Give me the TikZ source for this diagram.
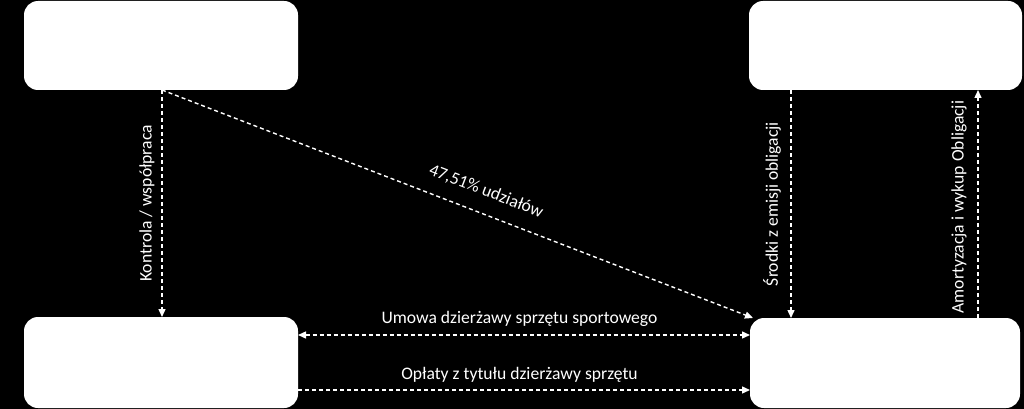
\documentclass[tikz,border=0pt]{standalone}
\usepackage{fontspec}
\setmainfont{Carlito}
\usepackage{xcolor}
\usetikzlibrary{arrows.meta}
\usetikzlibrary{positioning}
\usetikzlibrary{calc}

\begin{document}
\begin{tikzpicture}[
    x=1pt,y=-1pt,
    outer sep=0pt,inner sep=0pt,
    font=\fontsize{17.6}{20}\selectfont,
    entity/.style={fill=white,rounded corners=14pt,rectangle},
    flow/.style={draw=white,line width=1.4pt,dash pattern=on 4pt off 3pt,-{Triangle[length=8pt,width=7pt]}},
    flowlabel/.style={text=white,inner sep=2pt},
    ]
    \useasboundingbox [fill=black] (0,0) rectangle (1024,409);

    \node (owner)   at (161,45.5)  [entity,minimum width=274pt,minimum height=89pt] {};
    \node (bonds)   at (885.5,45.5)[entity,minimum width=273pt,minimum height=89pt] {};
    \node (lessee)  at (161,362.5) [entity,minimum width=274pt,minimum height=91pt] {};
    \node (issuer)  at (885,363)   [entity,minimum width=270pt,minimum height=90pt] {};

    % owner -> lessee / issuer
    \coordinate [right=1pt of owner.south]  (ctrls);
    \coordinate [right=1pt of lessee.north] (ctrle);
    \draw [flow] (ctrls) -- (ctrle);
    \node (ctrllbl) at ($(ctrls)!0.5!(ctrle)+(-15,0)$) [flowlabel,rotate=90] {Kontrola / współpraca};
    \draw [flow] (ctrls) -- ([xshift=3pt]issuer.north west)
        node [flowlabel,pos=0.535,sloped,above=13pt] {47,51\% udziałów};

    % lessee <-> issuer
    \coordinate [below=18pt of lessee.north east] (leasew);
    \coordinate [above=18pt of lessee.south east] (feesw);
    \draw [flow,{Triangle[length=8pt,width=7pt]}-{Triangle[length=8pt,width=7pt]}] (leasew) -- (leasew -| issuer.west)
        node [flowlabel,pos=0.49,above=6pt] {Umowa dzierżawy sprzętu sportowego};
    \draw [flow] (feesw) -- (feesw -| issuer.west)
        node [flowlabel,pos=0.49,above=6pt] {Opłaty z tytułu dzierżawy sprzętu};

    % bonds <-> issuer
    \coordinate [right=42pt of bonds.south west] (fundsn);
    \coordinate [left=44pt of bonds.south east]  (redeemn);
    \draw [flow] (fundsn) -- (fundsn |- issuer.north);
    \node (fundslbl) at ($(fundsn)!0.5!(fundsn |- issuer.north)+(-19,0)$) [flowlabel,rotate=90] {Środki z emisji obligacji};
    \draw [flow] (redeemn |- issuer.north) -- (redeemn);
    \node (redeemlbl) at ($(redeemn)!0.5!(redeemn |- issuer.north)+(-19,3)$) [flowlabel,rotate=90] {Amortyzacja i wykup Obligacji};
\end{tikzpicture}
\end{document}
